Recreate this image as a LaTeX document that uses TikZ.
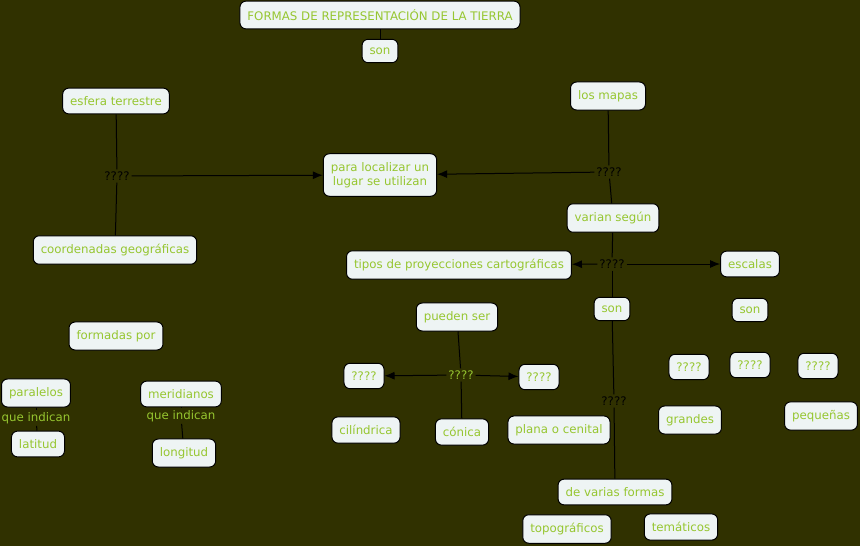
\documentclass[tikz,border=0pt]{standalone}
\usepackage{fontspec}
\setmainfont{DejaVu Sans}
\usetikzlibrary{arrows.meta}
\definecolor{bg}{RGB}{48,49,0}
\definecolor{txt}{RGB}{150,198,48}
\definecolor{boxfill}{RGB}{238,244,244}
\tikzset{
  concept/.style={draw=black, line width=1pt, fill=boxfill, rounded corners=6pt, text=txt, font=\fontsize{11.8}{14.5}\selectfont, inner xsep=7.5pt, inner ysep=8.3pt, align=center},
  lnk/.style={text=black, font=\fontsize{11.8}{14}\selectfont, inner sep=2pt},
  glnk/.style={text=txt, font=\fontsize{11.8}{14}\selectfont, inner sep=2pt},
  conn/.style={draw=black, line width=1pt},
  arr/.style={conn, -{Latex[length=10pt,width=8pt]}}
}
\begin{document}
\begin{tikzpicture}[x=1pt,y=-1pt]
\fill[bg] (0,0) rectangle (860,546);
\useasboundingbox (0,0) rectangle (860,546);
% top
\node[concept] (formas) at (380,15) {FORMAS DE REPRESENTACIÓN DE LA TIERRA};
\node[concept] (son0) at (380,51) {son};
% left upper
\node[concept] (esfera) at (116,101) {esfera terrestre};
\node[lnk] (q1) at (117,176) {????};
\node[concept] (coord) at (115,250) {coordenadas geográficas};
\node[concept] (para) at (380,175) {para localizar un\\lugar se utilizan};
% right upper
\node[concept] (mapas) at (608,96) {los mapas};
\node[lnk] (q2) at (609,172) {????};
\node[concept] (varian) at (613,218) {varian según};
\node[lnk] (q3) at (612,264) {????};
\node[concept] (tipos) at (459,265) {tipos de proyecciones cartográficas};
\node[concept] (escalas) at (750,264) {escalas};
\node[concept] (son1) at (612,309) {son};
\node[concept] (son2) at (750,310) {son};
% projections
\node[concept] (pueden) at (457,317) {pueden ser};
\node[glnk] (q4) at (461,375) {????};
\node[concept] (qa) at (364,376) {????};
\node[concept] (qb) at (539,377) {????};
\node[concept] (cilin) at (366,430) {cilíndrica};
\node[concept] (conica) at (462,432) {cónica};
\node[concept] (plana) at (559,430) {plana o cenital};
% map types
\node[lnk] (q5) at (614,401) {????};
\node[concept] (varias) at (615,492) {de varias formas};
\node[concept] (topo) at (567,529) {topográficos};
\node[concept] (tema) at (681,527) {temáticos};
% scales
\node[concept] (qc) at (689,367) {????};
\node[concept] (qd) at (750,365) {????};
\node[concept] (qe) at (818,366) {????};
\node[concept] (grandes) at (690,420) {grandes};
\node[concept] (peq) at (821,416) {pequeñas};
% coordinates
\node[concept] (formadas) at (116,336) {formadas por};
\node[concept] (paral) at (36,393) {paralelos};
\node[glnk] (qi1) at (36,418) {que indican};
\node[concept] (latitud) at (38,444) {latitud};
\node[concept] (merid) at (181,394) {meridianos};
\node[glnk] (qi2) at (181,416) {que indican};
\node[concept] (longitud) at (184,453) {longitud};
% connectors
\draw[conn] (formas) -- (son0);
\draw[conn] (esfera) -- (q1);
\draw[conn] (q1) -- (coord);
\draw[arr] (q1) -- (para);
\draw[conn] (mapas) -- (q2);
\draw[conn] (q2) -- (varian);
\draw[arr] (q2) -- (para);
\draw[conn] (varian) -- (q3);
\draw[arr] (q3) -- (tipos);
\draw[arr] (q3) -- (escalas);
\draw[conn] (q3) -- (son1);
\draw[conn] (pueden) -- (q4);
\draw[conn] (q4) -- (conica);
\draw[arr] (q4) -- (qa);
\draw[arr] (q4) -- (qb);
\draw[conn] (son1) -- (q5);
\draw[conn] (q5) -- (varias);
\draw[conn] (paral) -- (qi1);
\draw[conn] (qi1) -- (latitud);
\draw[conn] (merid) -- (qi2);
\draw[conn] (qi2) -- (longitud);
\end{tikzpicture}
\end{document}
